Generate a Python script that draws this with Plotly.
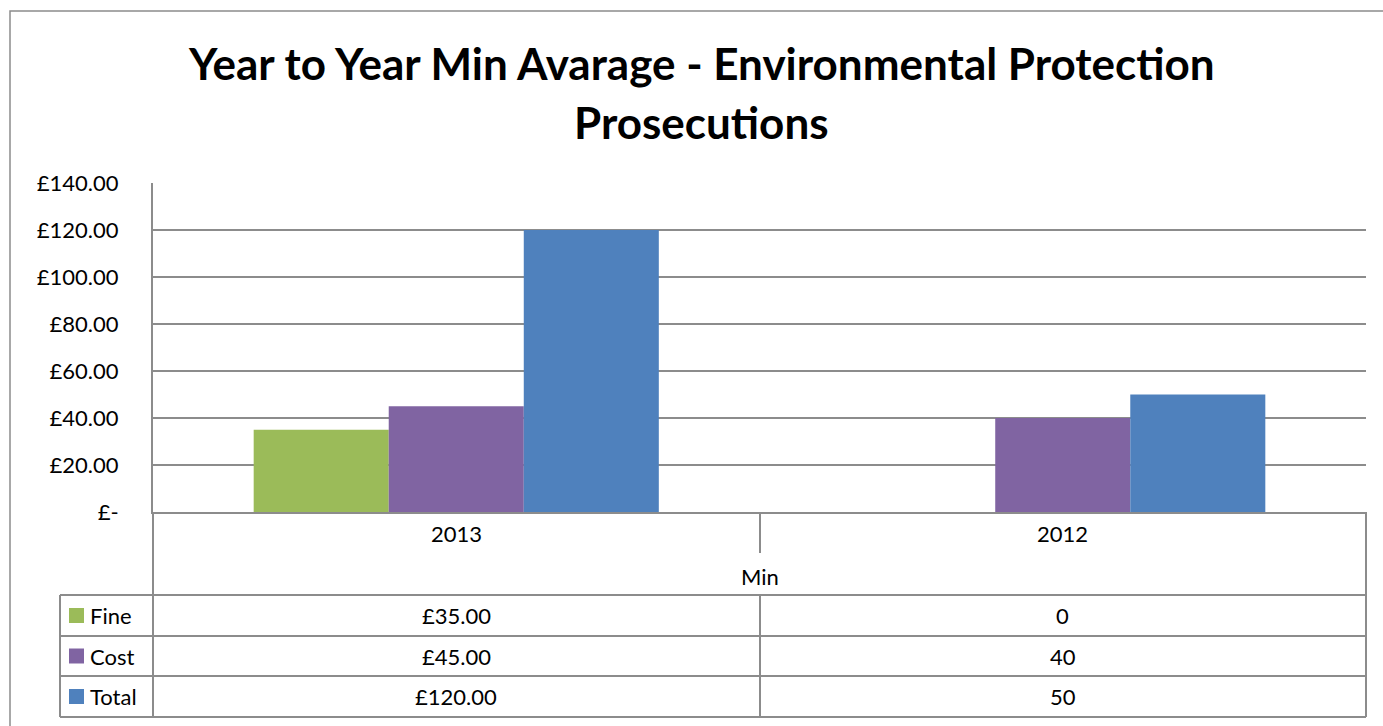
import plotly.graph_objects as go

# ---- data ----
years = ["2013", "2012"]
series_names = ["Fine", "Cost", "Total"]
fine = [35, 0]
cost = [45, 40]
total = [120, 50]
series_values = [fine, cost, total]
colors = ["#9BBB59", "#8064A2", "#4F81BD"]
currency_fmt = [True, False]   # 2013 column shown as currency in table
group_label = "Min"
y_tickvals = [0, 20, 40, 60, 80, 100, 120, 140]
y_ticktext = ["£-", "£20.00", "£40.00", "£60.00", "£80.00", "£100.00", "£120.00", "£140.00"]
title_lines = ["Year to Year Min Avarage - Environmental Protection", "Prosecutions"]

W, H = 1383, 726
L, R, T, B = 153, 1366, 183, 512
FONT = "Lato"
LINE = "#8c8c8c"
FS = 22


def px(x):
    return (x - L) / (R - L)


def py(y):
    return (B - y) / (B - T)


fig = go.Figure()
for name, vals, col in zip(series_names, series_values, colors):
    fig.add_trace(go.Bar(x=years, y=vals, name=name, marker=dict(color=col, line=dict(width=0))))

shapes = []


def hline(y, x0, x1):
    shapes.append(dict(type="line", xref="paper", yref="paper", x0=px(x0), x1=px(x1),
                       y0=py(y), y1=py(y), line=dict(color=LINE, width=2)))


def vline(x, y0, y1):
    shapes.append(dict(type="line", xref="paper", yref="paper", x0=px(x), x1=px(x),
                       y0=py(y0), y1=py(y1), line=dict(color=LINE, width=2)))


# outer chart border
shapes.append(dict(type="rect", xref="paper", yref="paper", x0=px(10), x1=px(1395),
                   y0=py(11), y1=py(740), line=dict(color="#8c8c8c", width=1.5)))

# data table lines
row_edges = [595, 636, 676, 717]
vline(L, B, 717)
vline(R, B, 717)
vline(760, B, 553)
vline(760, 595, 717)
vline(60, 595, 717)
for ye in row_edges:
    hline(ye, 60, R)

annotations = []
# title
annotations.append(dict(text="<b>%s</b>" % title_lines[0], xref="paper", yref="paper",
                        x=px(701), y=py(63), showarrow=False, xanchor="center", yanchor="middle",
                        font=dict(family=FONT, size=44, color="black")))
annotations.append(dict(text="<b>%s</b>" % title_lines[1], xref="paper", yref="paper",
                        x=px(701), y=py(122), showarrow=False, xanchor="center", yanchor="middle",
                        font=dict(family=FONT, size=44, color="black")))

tf = dict(family=FONT, size=FS, color="black")
# category labels (category axis: positions are category indices)
for ci, yr in enumerate(years):
    annotations.append(dict(text=yr, xref="x", yref="paper", x=ci, y=py(533),
                            showarrow=False, yanchor="middle", font=tf))
annotations.append(dict(text=group_label, xref="paper", yref="paper", x=px(760), y=py(576),
                        showarrow=False, yanchor="middle", font=tf))

row_tops = row_edges[:-1]
row_bots = row_edges[1:]
for i, (name, vals, col) in enumerate(zip(series_names, series_values, colors)):
    yc = (row_tops[i] + row_bots[i]) / 2
    # legend key square
    shapes.append(dict(type="rect", xref="paper", yref="paper", x0=px(69), x1=px(84),
                       y0=py(yc - 7.5), y1=py(yc + 7.5), fillcolor=col, line=dict(width=0)))
    annotations.append(dict(text=name, xref="paper", yref="paper", x=px(88), y=py(yc),
                            showarrow=False, xanchor="left", yanchor="middle", font=tf))
    for ci, (v, cur) in enumerate(zip(vals, currency_fmt)):
        txt = "£%.2f" % v if cur else "%g" % v
        annotations.append(dict(text=txt, xref="x", yref="paper", x=ci, y=py(yc),
                                showarrow=False, yanchor="middle", font=tf))

fig.update_layout(
    width=W, height=H,
    margin=dict(l=L, r=W - R, t=T, b=H - B, pad=0),
    paper_bgcolor="white", plot_bgcolor="white",
    barmode="group", bargap=0.332, bargroupgap=0,
    showlegend=False,
    shapes=shapes, annotations=annotations,
    font=dict(family=FONT, color="black"),
    xaxis=dict(type="category", range=[-0.5, 1.5], showticklabels=False, showgrid=False,
               showline=True, linecolor=LINE, linewidth=2, ticks="", zeroline=False),
    yaxis=dict(range=[0, 140], tickvals=y_tickvals, ticktext=y_ticktext,
               showgrid=True, gridcolor="#8c8c8c", gridwidth=1.5,
               showline=True, linecolor=LINE, linewidth=2, zeroline=False,
               ticks="", ticklabelstandoff=28, tickfont=dict(family=FONT, size=FS, color="black")),
)

fig.write_html("out.html", config={"displayModeBar": False},
               post_script="document.body.style.margin='0';document.body.style.overflow='hidden';")
